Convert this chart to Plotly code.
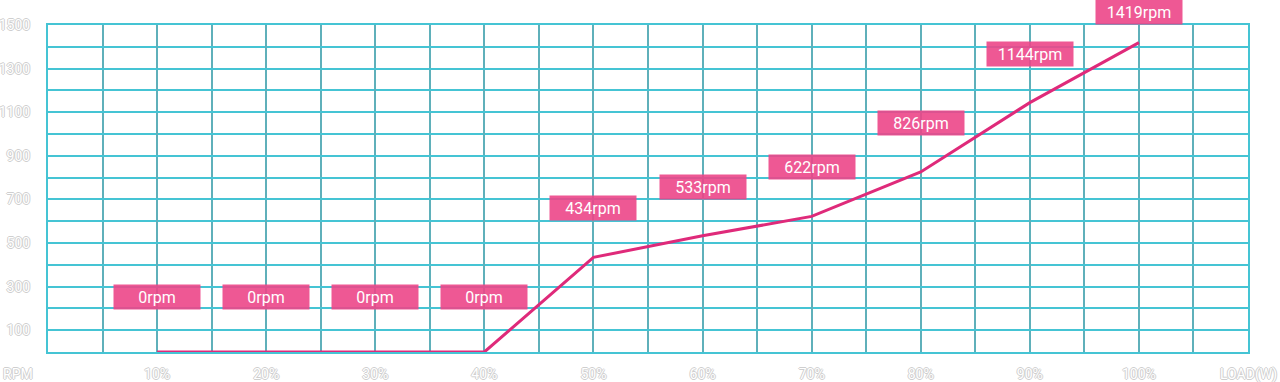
import plotly.graph_objects as go

load_pct = [10, 20, 30, 40, 50, 60, 70, 80, 90, 100]
rpm = [0, 0, 0, 0, 434, 533, 622, 826, 1144, 1419]
labels = [f"{v}rpm" for v in rpm]
x_ticks = [10, 20, 30, 40, 50, 60, 70, 80, 90, 100]
x_tick_text = [f"{v}%" for v in x_ticks]
y_ticks = [100, 300, 500, 700, 900, 1100, 1300, 1500]

LINE = "#df2a7a"
BOX = "rgba(236,70,136,0.9)"
VGRID = "#5fb0ba"
HGRID = "#45c4d4"
TICKFONT = dict(family="Roboto", size=14, color="#ffffff",
                shadow="1px 0 0 #cfcfcf, -1px 0 0 #cfcfcf, 0 1px 0 #cfcfcf, 0 -1px 0 #cfcfcf")

fig = go.Figure()
fig.add_trace(go.Scatter(x=load_pct, y=rpm, mode="lines",
                         line=dict(color=LINE, width=3), hoverinfo="skip", cliponaxis=False))

plot_h = 382 - 25 - 30
for i, (x, y, t) in enumerate(zip(load_pct, rpm, labels)):
    yshift = 55 if y == 0 else 49
    top_px = 25 + (1500 - y) * plot_h / 1500 - yshift - 12
    if top_px < 0:
        yshift += top_px
    fig.add_annotation(x=x, y=y, text=t, showarrow=False, yshift=yshift,
                       width=86, height=24, borderpad=0, bgcolor=BOX,
                       font=dict(family="Roboto", size=16, color="white"))

fig.add_annotation(x=0, xref="paper", xanchor="left", xshift=-47, y=0, yref="paper",
                   yanchor="top", yshift=-12, text="RPM", showarrow=False, font=TICKFONT)
fig.add_annotation(x=1, xref="paper", xanchor="right", xshift=31, y=0, yref="paper",
                   yanchor="top", yshift=-12, text="LOAD(W)", showarrow=False, font=TICKFONT)

fig.update_layout(
    width=1280, height=382,
    margin=dict(l=48, r=32, t=25, b=30),
    paper_bgcolor="white", plot_bgcolor="white",
    showlegend=False,
    xaxis=dict(range=[0, 110], tickvals=x_ticks, ticktext=x_tick_text,
               showgrid=True, gridcolor=VGRID, gridwidth=2,
               minor=dict(dtick=5, tick0=0, showgrid=True, gridcolor=VGRID, gridwidth=2),
               zeroline=False, showline=True, mirror=True, linecolor=HGRID, linewidth=2,
               tickfont=TICKFONT, ticks="", ticklabelstandoff=8, fixedrange=True,
               automargin=False),
    yaxis=dict(range=[0, 1500], tickvals=y_ticks,
               showgrid=True, gridcolor=HGRID, gridwidth=2,
               minor=dict(dtick=100, tick0=0, showgrid=True, gridcolor=HGRID, gridwidth=2),
               zeroline=False, showline=True, mirror=True, linecolor=HGRID, linewidth=2,
               tickfont=TICKFONT, ticks="", ticklabelstandoff=13, fixedrange=True,
               automargin=False),
)

fig.write_html("out.html", config={"displayModeBar": False},
               post_script="document.body.style.margin='0';document.body.style.overflow='hidden';")
